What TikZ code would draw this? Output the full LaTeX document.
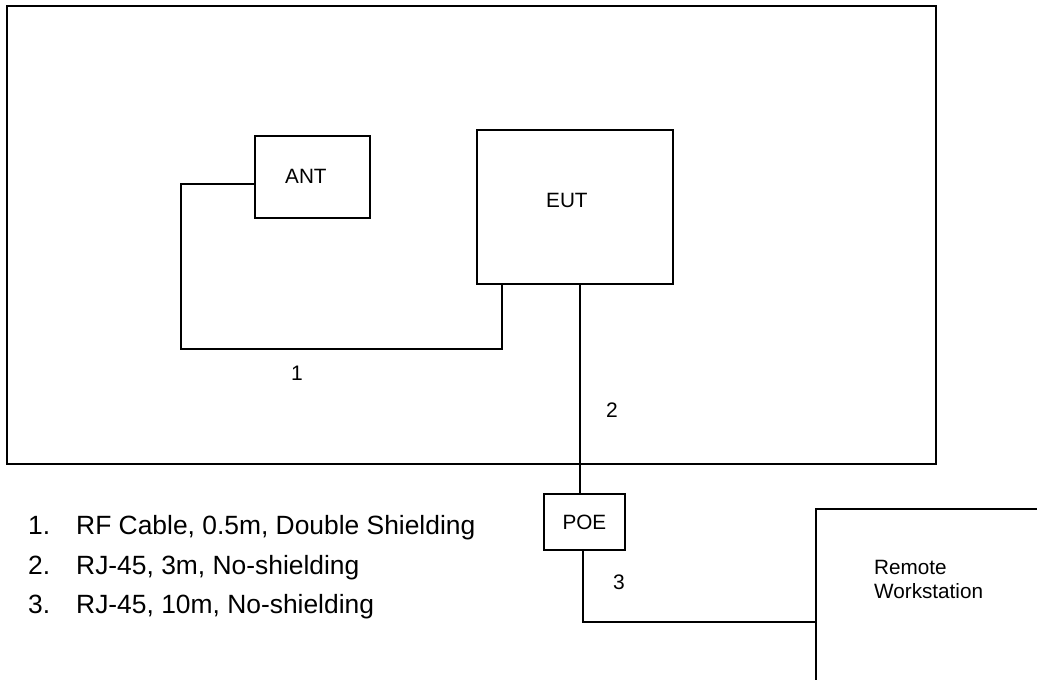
\documentclass[tikz,border=0pt]{standalone}
\usepackage{fontspec}
\setmainfont{Liberation Sans}
\usetikzlibrary{calc}
\begin{document}
\begin{tikzpicture}[x=1pt,y=-1pt]
\tikzset{
  box/.style={draw, line width=1.8pt, rectangle, inner sep=0pt, anchor=north west},
  wire/.style={draw, line width=1.8pt},
  boxtext/.style={font=\fontsize{20.7}{24}\selectfont},
  listtext/.style={font=\fontsize{26.4}{30}\selectfont, anchor=base west, inner sep=0pt},
  num/.style={font=\fontsize{21}{24}\selectfont, inner sep=0pt}
}
\useasboundingbox (0,0) rectangle (1037,680);
\clip (0,0) rectangle (1037,680);
% enclosure
\node[box, minimum width=929pt, minimum height=458pt] (room) at (6,5) {};
% boxes
\node[box, minimum width=115pt, minimum height=82pt,
      label={[boxtext, xshift=-6.5pt, yshift=1pt]center:ANT}] (ANT) at (254,135) {};
\node[box, minimum width=196pt, minimum height=154pt,
      label={[boxtext, xshift=-8pt, yshift=6pt]center:EUT}] (EUT) at (476,129) {};
\node[box, minimum width=81pt, minimum height=56pt, boxtext] (POE) at (543,493) {POE};
\node[box, minimum width=300pt, minimum height=250pt] (RW) at (815,508) {};
\node[boxtext, align=left, anchor=north west, inner sep=0pt] (RWt) at (874,560.5) {Remote\\Workstation};
% wires
\coordinate (a1) at (181,349);
\coordinate (a2) at (502,349);
\draw[wire] ([yshift=-7pt]ANT.west) -| (a1) -- (a2) -- (a2 |- EUT.south);
\draw[wire] ([xshift=5pt]EUT.south) -- ([xshift=5pt]EUT.south |- POE.north);
\coordinate (a3) at (583,622);
\draw[wire] (POE.south -| a3) -- (a3) -- (a3 -| RW.west);
% cable labels
\node[num] (l1) at (297,373) {1};
\node[num] (l2) at (612,410) {2};
\node[num] (l3) at (619,582) {3};
% legend
\node[listtext] (i1) at (28,534.5) {\makebox[48pt][l]{1.}RF Cable, 0.5m, Double Shielding};
\node[listtext] (i2) at (28,574) {\makebox[48pt][l]{2.}RJ-45, 3m, No-shielding};
\node[listtext] (i3) at (28,613.5) {\makebox[48pt][l]{3.}RJ-45, 10m, No-shielding};
\end{tikzpicture}
\end{document}
